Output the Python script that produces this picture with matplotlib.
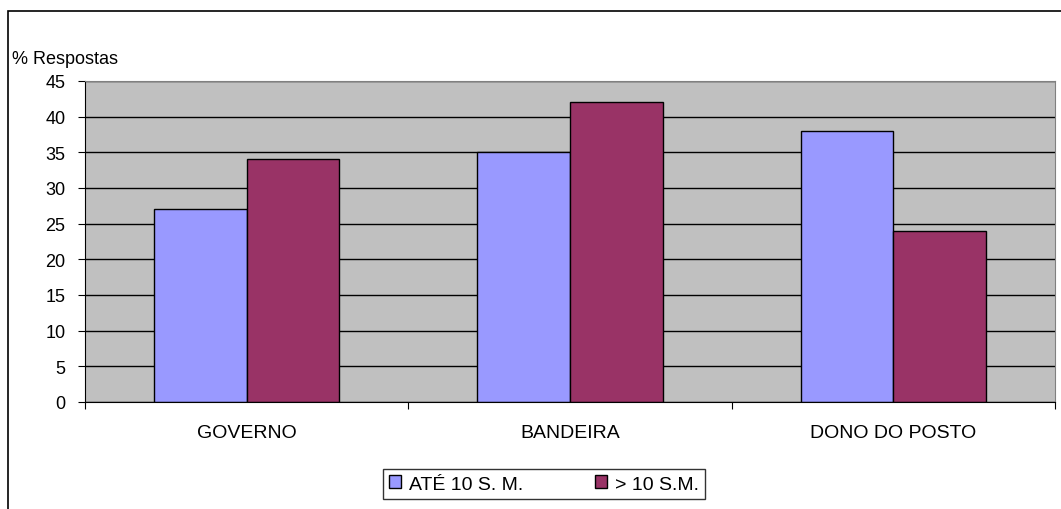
import matplotlib
matplotlib.use("Agg")
import matplotlib.pyplot as plt
import numpy as np
from matplotlib.patches import Rectangle

categorias = ["GOVERNO", "BANDEIRA", "DONO DO POSTO"]
ate_10 = [27, 35, 38]
mais_10 = [34, 42, 24]
series = ["ATÉ 10 S. M.", "> 10 S.M."]

plt.rcParams['font.family'] = ['Liberation Sans', 'DejaVu Sans']

fig = plt.figure(figsize=(10.61, 5.10), dpi=100)
ax = fig.add_axes([85/1061, 1-403/510, 970/1061, 321/510])

# moldura externa do grafico
fig.patches.append(Rectangle((8/1061, -0.1), 1.2, 1.1-12/510, transform=fig.transFigure,
                             fill=False, edgecolor='black', linewidth=1.2, clip_on=False))

x = np.arange(len(categorias))
w = 0.287
ax.set_facecolor('#C0C0C0')
ax.set_axisbelow(True)
ax.yaxis.grid(True, color='black', linewidth=1)
ax.bar(x - w/2, ate_10, w, color='#9999FF', edgecolor='black', linewidth=1, label=series[0])
ax.bar(x + w/2, mais_10, w, color='#993366', edgecolor='black', linewidth=1, label=series[1])

ax.set_xlim(-0.5, 2.5)
ax.set_ylim(0, 45)
ax.set_yticks(range(0, 46, 5))
ax.set_xticks([-0.5, 0.5, 1.5, 2.5])
ax.set_xticklabels([])
ax.set_xticks(x, minor=True)
ax.set_xticklabels(categorias, minor=True, fontsize=14)
ax.tick_params(axis='x', which='minor', length=0, pad=16)
ax.tick_params(axis='x', which='major', length=5, color='black')
ax.tick_params(axis='y', labelsize=13, length=5, pad=9)
for s in ['top', 'right']:
    ax.spines[s].set_color('#808080')
for s in ['left', 'bottom']:
    ax.spines[s].set_color('black')

fig.text(12/1061, 1-60/510, "% Respostas", fontsize=13, va='center', ha='left')

leg = fig.legend(loc='center', bbox_to_anchor=(544/1061, 1-485/510), ncol=2, fontsize=14,
                 frameon=True, fancybox=False, edgecolor='black', handlelength=0.6,
                 handleheight=0.6, columnspacing=3.7, handletextpad=0.4, borderpad=0.35)
leg.get_frame().set_linewidth(1)

fig.savefig("out.png", dpi=100)
